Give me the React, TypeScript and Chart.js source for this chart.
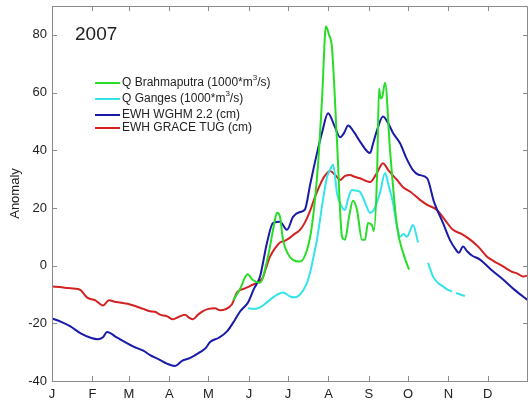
import React, { useEffect, useRef } from "react";
import { Chart, registerables } from "chart.js";

Chart.register(...registerables);

const MONTH_DAYS = [0, 31, 59, 90, 120, 151, 181, 212, 243, 273, 304, 334];
const MONTH_LABELS = ["J", "F", "M", "A", "M", "J", "J", "A", "S", "O", "N", "D"];
const Y_TICKS = [-40, -20, 0, 20, 40, 60, 80];

const YEAR_LABEL = "2007";
const Y_TITLE = "Anomaly";

// Q Brahmaputra (1000*m^3/s)
const brahmaDays = [139, 144, 150, 154, 159.5, 165.6, 170.2, 172.5, 174.8, 177.1, 181, 184.8, 190.2, 195.6, 199.4, 204, 207.1, 210.1, 212.4, 214.7, 218.6, 222.4, 224.7, 227.8, 230.8, 233.9, 237.7, 240, 242.3, 245.4, 246.9, 249.2, 250.8, 252, 253.1, 255.4, 259.2, 264.6, 269.2, 273.8];
const brahmaVals = [-12, -8.3, -3, -5, -5.9, 3.1, 14, 18.3, 17, 9, 4, 2, 1.4, 5.5, 14, 35, 58, 83, 80, 75.5, 42.4, 10, 9, 17, 22.5, 19.3, 9, 9, 14.8, 14, 12, 30.7, 61.4, 58, 58.3, 63.4, 40, 13.4, 4.5, -1.4];

// Q Ganges (1000*m^3/s)
const gangesDays = [150.3, 155, 159.5, 164, 169.5, 173, 177.1, 182.5, 186, 190.2, 195.6, 197.9, 200.5, 203.2, 207.8, 210.9, 213, 215.5, 218.6, 221.5, 224.7, 227, 230, 233, 236.2, 240, 243.9, 247.5, 251.5, 255.4, 258, 261.5, 264, 266.9, 269.5, 272.2, 274.5, 276.8, 280.7, 284, 288.3, 292.2, 296, 299.8, 303, 306.7, 308, 309.8, 313, 316.7];
const gangesVals = [-14.8, -15, -14.5, -13, -11, -10, -9.3, -10.7, -11, -10, -5.9, -2.4, 3, 9, 22.8, 30.7, 33, 35, 25, 21, 19.3, 23, 26.2, 26, 25.5, 22, 18.3, 20, 25.2, 32.1, 28, 21.7, 15, 10, 11, 10, 12, 14.1, 8, null, 1, -3.8, -6, -7.2, -8.2, -9, null, -9.5, -10, -10.5];

// EWH WGHM 2.2 (cm)
const wghmDays = [0, 7, 13.8, 22, 30.7, 35, 39.1, 42.2, 50, 62.1, 70, 75.2, 82, 88.2, 94.3, 99.7, 106, 113.5, 118, 121.2, 128, 134.2, 140, 144.2, 150.3, 154.9, 159.5, 164.9, 169.5, 174.8, 180.2, 184.8, 190.2, 194, 197.9, 203.2, 207, 211.7, 217, 220.9, 224, 227, 232, 236.2, 243.9, 246, 249.2, 253.8, 257, 261.5, 266.9, 272, 276.8, 281, 287.6, 293, 299.8, 305, 309, 312, 315.2, 318.3, 322, 328.2, 337, 345.9, 355, 365];
const wghmVals = [-18.3, -19.5, -21, -23.5, -25.2, -25.5, -24.8, -23, -25, -28, -29.5, -31, -32.5, -34, -34.8, -33, -32, -30, -28.5, -26.5, -25, -22.8, -19, -15.9, -12.8, -8, -3.8, 8, 14.8, 15.2, 12.4, 16.9, 18.6, 19.5, 28, 39, 46, 52.8, 48, 44.5, 46, 48.6, 46, 43, 39, 42, 46.9, 51.7, 50, 46, 42.4, 37, 33.1, 31.5, 30.3, 22, 14.8, 9, 6, 4.5, 6.6, 5, 3.5, 2.1, -1.5, -4.8, -8.5, -12];

// EWH GRACE TUG (cm)
const graceDays = [0, 7.7, 12, 17.6, 22, 26.8, 33, 39.1, 43.7, 48, 52.1, 58, 63.7, 70, 75.2, 79, 82.8, 88, 92.8, 97, 102, 105, 108.1, 112, 115.8, 120, 125, 129, 132.7, 138, 141.9, 148, 152, 157.2, 161.8, 164, 167.2, 171, 174.8, 178, 182.5, 186, 190.2, 194, 197.9, 201, 205.5, 209, 213.2, 217, 220.9, 224.5, 228.5, 232, 236.2, 240, 243.9, 249, 253.8, 258, 264.6, 269.2, 275, 282.2, 288, 295.2, 301, 307.5, 314, 320.6, 327, 333.6, 339, 345.9, 352, 357, 361.2, 365];
const graceVals = [-7.2, -7.5, -7.8, -8, -8.5, -11, -12, -13.8, -12, -12.5, -12.8, -13.2, -14, -15, -15.8, -16, -17, -17.5, -18.6, -17.8, -17, -18, -18.6, -17, -15.8, -15, -14.8, -15.5, -15.2, -13.4, -9.3, -7.9, -7, -5.9, -4, -1, 3.1, 6, 8, 8.5, 9.7, 11, 12.4, 15, 19, 23, 28, 31, 32.8, 31.5, 29.7, 31, 31.4, 30.8, 30.3, 29.5, 29, 32, 35.5, 33, 29.7, 27.2, 25.5, 22.8, 21, 19.3, 16, 12.4, 11, 9, 6.5, 3.1, 1.5, -0.3, -2, -2.8, -3.8, -3.4];

const LEGEND_MAIN = ["Q Brahmaputra (1000*m", "Q Ganges (1000*m", "EWH WGHM 2.2 (cm)", "EWH GRACE TUG (cm)"];
const LEGEND_SUP = ["3", "3", "", ""];
const LEGEND_TAIL = ["/s)", "/s)", "", ""];

const COLORS = ["#27dd27", "#35e3ea", "#1a1aa8", "#d42222"];
const AXIS_COLOR = "#8a8a8a";
const TEXT_COLOR = "#222222";
const FONT = "'Liberation Sans', Arial, sans-serif";

function pts(days: number[], vals: (number | null)[]) {
  return days.map((d, i) => ({ x: d, y: vals[i] }));
}

const framePlugin = {
  id: "frame",
  afterDraw(chart: any) {
    const { ctx, chartArea } = chart;
    const { left, right, top, bottom } = chartArea;
    const xs = chart.scales.x;
    const ys = chart.scales.y;
    ctx.save();
    ctx.strokeStyle = AXIS_COLOR;
    ctx.lineWidth = 1;
    ctx.beginPath();
    ctx.moveTo(left + 0.5, bottom + 0.5);
    ctx.lineTo(left + 0.5, top + 0.5);
    ctx.lineTo(right - 0.5, top + 0.5);
    ctx.lineTo(right - 0.5, bottom + 0.5);
    ctx.lineTo(left + 0.5, bottom + 0.5);
    ctx.stroke();
    const tl = 5;
    ctx.beginPath();
    MONTH_DAYS.forEach((d) => {
      const px = Math.round(xs.getPixelForValue(d)) + 0.5;
      ctx.moveTo(px, bottom);
      ctx.lineTo(px, bottom - tl);
      ctx.moveTo(px, top);
      ctx.lineTo(px, top + tl);
    });
    Y_TICKS.forEach((v) => {
      const py = Math.round(ys.getPixelForValue(v)) + 0.5;
      ctx.moveTo(left, py);
      ctx.lineTo(left + tl, py);
      ctx.moveTo(right, py);
      ctx.lineTo(right - tl, py);
    });
    ctx.stroke();

    // Year label
    ctx.fillStyle = TEXT_COLOR;
    ctx.font = `19px ${FONT}`;
    ctx.textBaseline = "middle";
    ctx.textAlign = "left";
    ctx.fillText(YEAR_LABEL, 75, 35);

    // Legend
    const rowY = [83, 99, 115, 128];
    const lx0 = 95;
    const lx1 = 120;
    LEGEND_MAIN.forEach((label, i) => {
      const y = rowY[i];
      ctx.strokeStyle = COLORS[i];
      ctx.lineWidth = 2;
      ctx.beginPath();
      ctx.moveTo(lx0, y);
      ctx.lineTo(lx1, y);
      ctx.stroke();
      ctx.fillStyle = TEXT_COLOR;
      ctx.font = `12px ${FONT}`;
      ctx.textBaseline = "middle";
      let tx = lx1 + 2;
      ctx.fillText(label, tx, y);
      tx += ctx.measureText(label).width;
      if (LEGEND_SUP[i]) {
        ctx.font = `8px ${FONT}`;
        ctx.fillText(LEGEND_SUP[i], tx, y - 5);
        tx += ctx.measureText(LEGEND_SUP[i]).width;
        ctx.font = `12px ${FONT}`;
        ctx.fillText(LEGEND_TAIL[i], tx, y);
      }
    });
    ctx.restore();
  },
};

export default function App() {
  const ref = useRef<HTMLCanvasElement | null>(null);

  useEffect(() => {
    if (!ref.current) return;
    const names = ["Q Brahmaputra", "Q Ganges", "EWH WGHM 2.2", "EWH GRACE TUG"];
    const series = [
      pts(brahmaDays, brahmaVals),
      pts(gangesDays, gangesVals),
      pts(wghmDays, wghmVals),
      pts(graceDays, graceVals),
    ];
    const chart = new Chart(ref.current, {
      type: "line",
      data: {
        datasets: series.map((data, i) => ({
          label: names[i],
          data,
          borderColor: COLORS[i],
          backgroundColor: COLORS[i],
          borderWidth: 2,
          pointRadius: 0,
          fill: false,
          spanGaps: false,
          cubicInterpolationMode: "monotone" as const,
        })),
      },
      options: {
        animation: false,
        responsive: false,
        events: [],
        layout: { padding: { top: 6, right: 2, left: 0, bottom: 0 } },
        plugins: { legend: { display: false }, tooltip: { enabled: false } },
        scales: {
          x: {
            type: "linear",
            min: 0,
            max: 365,
            grid: { display: false, drawTicks: false },
            border: { display: false },
            afterBuildTicks: (scale: any) => {
              scale.ticks = MONTH_DAYS.map((v) => ({ value: v }));
            },
            afterFit: (scale: any) => {
              scale.height = 24;
              scale.paddingLeft = 0;
              scale.paddingRight = 0;
            },
            ticks: {
              autoSkip: false,
              maxRotation: 0,
              padding: 6,
              color: TEXT_COLOR,
              font: { family: FONT, size: 13 },
              callback: (v: any) => {
                const idx = MONTH_DAYS.indexOf(Number(v));
                return idx >= 0 ? MONTH_LABELS[idx] : "";
              },
            },
          },
          y: {
            type: "linear",
            min: -40,
            max: 90,
            grid: { display: false, drawTicks: false },
            border: { display: false },
            afterBuildTicks: (scale: any) => {
              scale.ticks = Y_TICKS.map((v) => ({ value: v }));
            },
            afterFit: (scale: any) => {
              scale.width = 52;
              scale.paddingTop = 0;
              scale.paddingBottom = 0;
            },
            title: {
              display: true,
              text: Y_TITLE,
              color: TEXT_COLOR,
              font: { family: FONT, size: 13 },
              padding: { top: 8, bottom: 0 },
            },
            ticks: {
              padding: 5,
              color: TEXT_COLOR,
              font: { family: FONT, size: 13 },
            },
          },
        },
      },
      plugins: [framePlugin],
    });
    return () => chart.destroy();
  }, []);

  return (
    <div style={{ position: "absolute", left: 0, top: 0, width: 530, height: 405, background: "#fff" }}>
      <canvas ref={ref} width={530} height={405} style={{ display: "block" }} />
    </div>
  );
}
